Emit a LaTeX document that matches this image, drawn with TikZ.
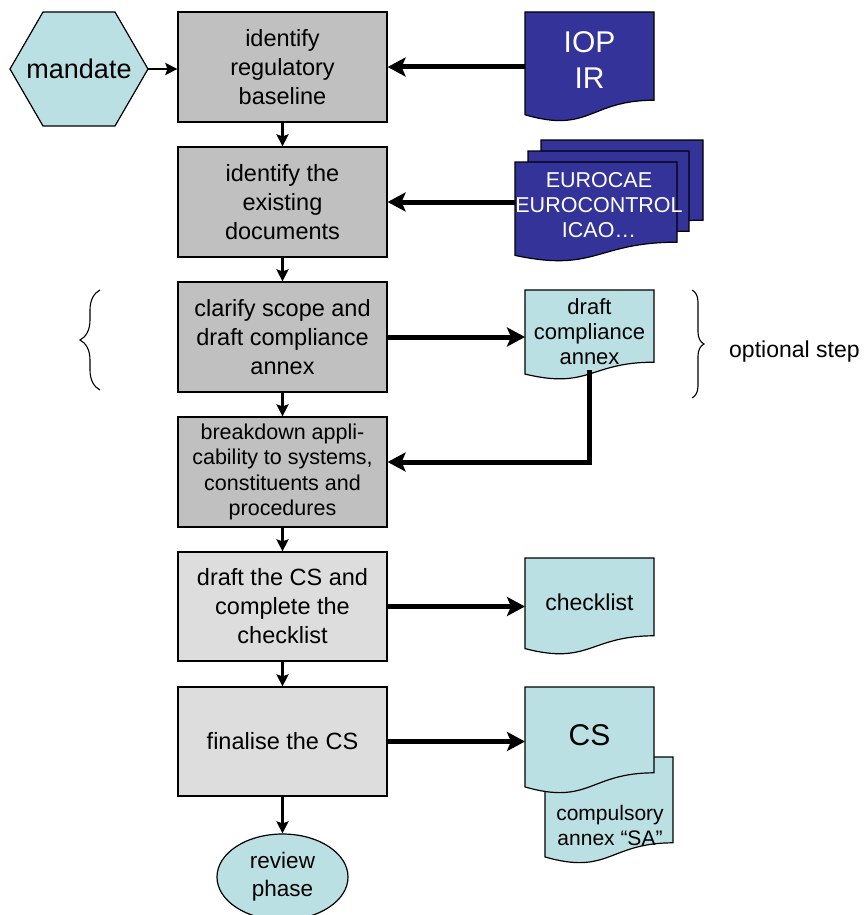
\documentclass[tikz,border=0pt]{standalone}
\usepackage{fontspec}
\setmainfont{Liberation Sans}
\usetikzlibrary{arrows.meta,shapes.geometric,calc,decorations.pathreplacing,backgrounds}
\definecolor{doccyan}{RGB}{187,224,227}
\definecolor{docblue}{RGB}{51,51,153}
\definecolor{boxgray}{RGB}{192,192,192}
\definecolor{boxlight}{RGB}{221,221,221}
\newcommand\docpath[2]{%
  \path[draw=black, line width=1.2pt, fill=#2] let \p1=(#1.north west), \p2=(#1.south east) in
  (\x1,\y1) -- (\x2,\y1) -- (\x2,{\y1+0.802*(\y2-\y1)})
  .. controls ({0.5*(\x1+\x2)},{\y1+0.802*(\y2-\y1)}) and ({0.5*(\x1+\x2)},{\y1+1.107*(\y2-\y1)})
  .. (\x1,{\y1+0.934*(\y2-\y1)}) -- cycle;}
\tikzset{
  stepbox/.style={draw=black, line width=1.2pt, minimum width=209pt, minimum height=110pt,
    align=center, inner sep=2pt, font=\fontsize{23.5}{29}\selectfont},
  docholder/.style={rectangle, inner sep=0pt, outer sep=0pt},
  doclabel/.style={align=center, inner sep=0pt},
  thinarrow/.style={line width=2.6pt, -{Stealth[length=12pt,width=12pt,inset=2pt]}},
  thickarrow/.style={line width=5pt, -{Stealth[length=18pt,width=19pt,inset=4pt]}},
  bracestyle/.style={line width=1.1pt, decorate},
}
\begin{document}
\begin{tikzpicture}[x=1pt,y=-1pt]
\useasboundingbox (0,0) rectangle (866,915);

% mandate hexagon
\draw[fill=doccyan, line width=1.2pt] (10,69) -- (43,12) -- (115,12) -- (148,69) -- (115,126) -- (43,126) -- cycle;
\node[minimum width=138pt, minimum height=40pt, inner sep=0pt, font=\fontsize{27}{32}\selectfont] (mandate) at (79,69) {mandate};

% step boxes
\node[stepbox, fill=boxgray] (b1) at (282.5,67) {identify\\regulatory\\baseline};
\node[stepbox, fill=boxgray] (b2) at (282.5,202) {identify the\\existing\\documents};
\node[stepbox, fill=boxgray] (b3) at (282.5,337) {clarify scope and\\draft compliance\\annex};
\node[stepbox, fill=boxgray, font=\fontsize{21.5}{25.5}\selectfont] (b4) at (282.5,472) {breakdown appli-\\cability to systems,\\constituents and\\procedures};
\node[stepbox, fill=boxlight, minimum height=109pt] (b5) at (282.5,606.5) {draft the CS and\\complete the\\checklist};
\node[stepbox, fill=boxlight, minimum height=109pt] (b6) at (282.5,741.5) {finalise the CS};

% review ellipse
\node[ellipse, draw=black, line width=1.2pt, fill=doccyan, minimum width=131pt, minimum height=86pt,
  inner sep=0pt, align=center, font=\fontsize{22.5}{28}\selectfont] (rev) at (282.5,877) {review\\phase};

% document holders
\node[docholder, minimum width=129pt, minimum height=110pt] (iop) at (589.5,67) {};
\node[docholder, minimum width=162pt, minimum height=100pt] (eback) at (622,190) {};
\node[docholder, minimum width=161pt, minimum height=100pt] (emid) at (608.5,201) {};
\node[docholder, minimum width=162pt, minimum height=100pt] (efront) at (596,212) {};
\node[docholder, minimum width=129pt, minimum height=90pt] (dca) at (589.5,335) {};
\node[docholder, minimum width=129pt, minimum height=97pt] (chk) at (589.5,606.5) {};
\node[docholder, minimum width=128pt, minimum height=107pt] (ann) at (609,810.5) {};
\node[docholder, minimum width=129pt, minimum height=107pt] (cs) at (589.5,740.5) {};

\begin{pgfonlayer}{background}
\docpath{iop}{docblue}
\docpath{eback}{docblue}
\docpath{emid}{docblue}
\docpath{efront}{docblue}
\docpath{dca}{doccyan}
\docpath{chk}{doccyan}
\docpath{ann}{doccyan}
\docpath{cs}{doccyan}
\end{pgfonlayer}

% document labels
\node[doclabel, text=white, font=\fontsize{30}{36}\selectfont] (iopT) at (589.5,60) {IOP\\IR};
\node[doclabel, text=white, font=\fontsize{21.5}{25}\selectfont] (euroT) at (599,205) {EUROCAE\\EUROCONTROL\\ICAO…};
\node[doclabel, font=\fontsize{22}{25}\selectfont] (dcaT) at (589.5,332) {draft\\compliance\\annex};
\node[doclabel, font=\fontsize{23}{28}\selectfont] (chkT) at (589.5,602) {checklist};
\node[doclabel, font=\fontsize{30}{36}\selectfont] (csT) at (589.5,735) {CS};
\node[doclabel, font=\fontsize{21}{25}\selectfont] (annT) at (610,825) {compulsory\\annex “SA”};
\node[doclabel, font=\fontsize{23}{28}\selectfont, anchor=west] (opt) at (729,352) {optional step};

% braces
\draw[bracestyle, decoration={brace, amplitude=20pt}] (100,390) -- (100,290);
\draw[bracestyle, decoration={brace, amplitude=12pt}] (692,290) -- (692,398);

% connectors
\draw[thinarrow] (mandate.east) -- (b1.west |- mandate.east);
\draw[thickarrow] (iop.west |- b1.east) -- (b1.east);
\draw[thickarrow] (efront.west |- b2.east) -- (b2.east);
\draw[thickarrow] (b3.east) -- (dca.west |- b3.east);
\coordinate (dcaout) at ([yshift=-35pt]dca.center);
\draw[thickarrow] (dcaout) |- ([yshift=10pt]b4.east);
\draw[thickarrow] (b5.east) -- (chk.west |- b5.east);
\draw[thickarrow] (b6.east) -- (cs.west |- b6.east);

\draw[thinarrow] (b1.south) -- (b2.north);
\draw[thinarrow] (b2.south) -- (b3.north);
\draw[thinarrow] (b3.south) -- (b4.north);
\draw[thinarrow] (b4.south) -- (b5.north);
\draw[thinarrow] (b5.south) -- (b6.north);
\draw[thinarrow] (b6.south) -- (rev.north);
\end{tikzpicture}
\end{document}
